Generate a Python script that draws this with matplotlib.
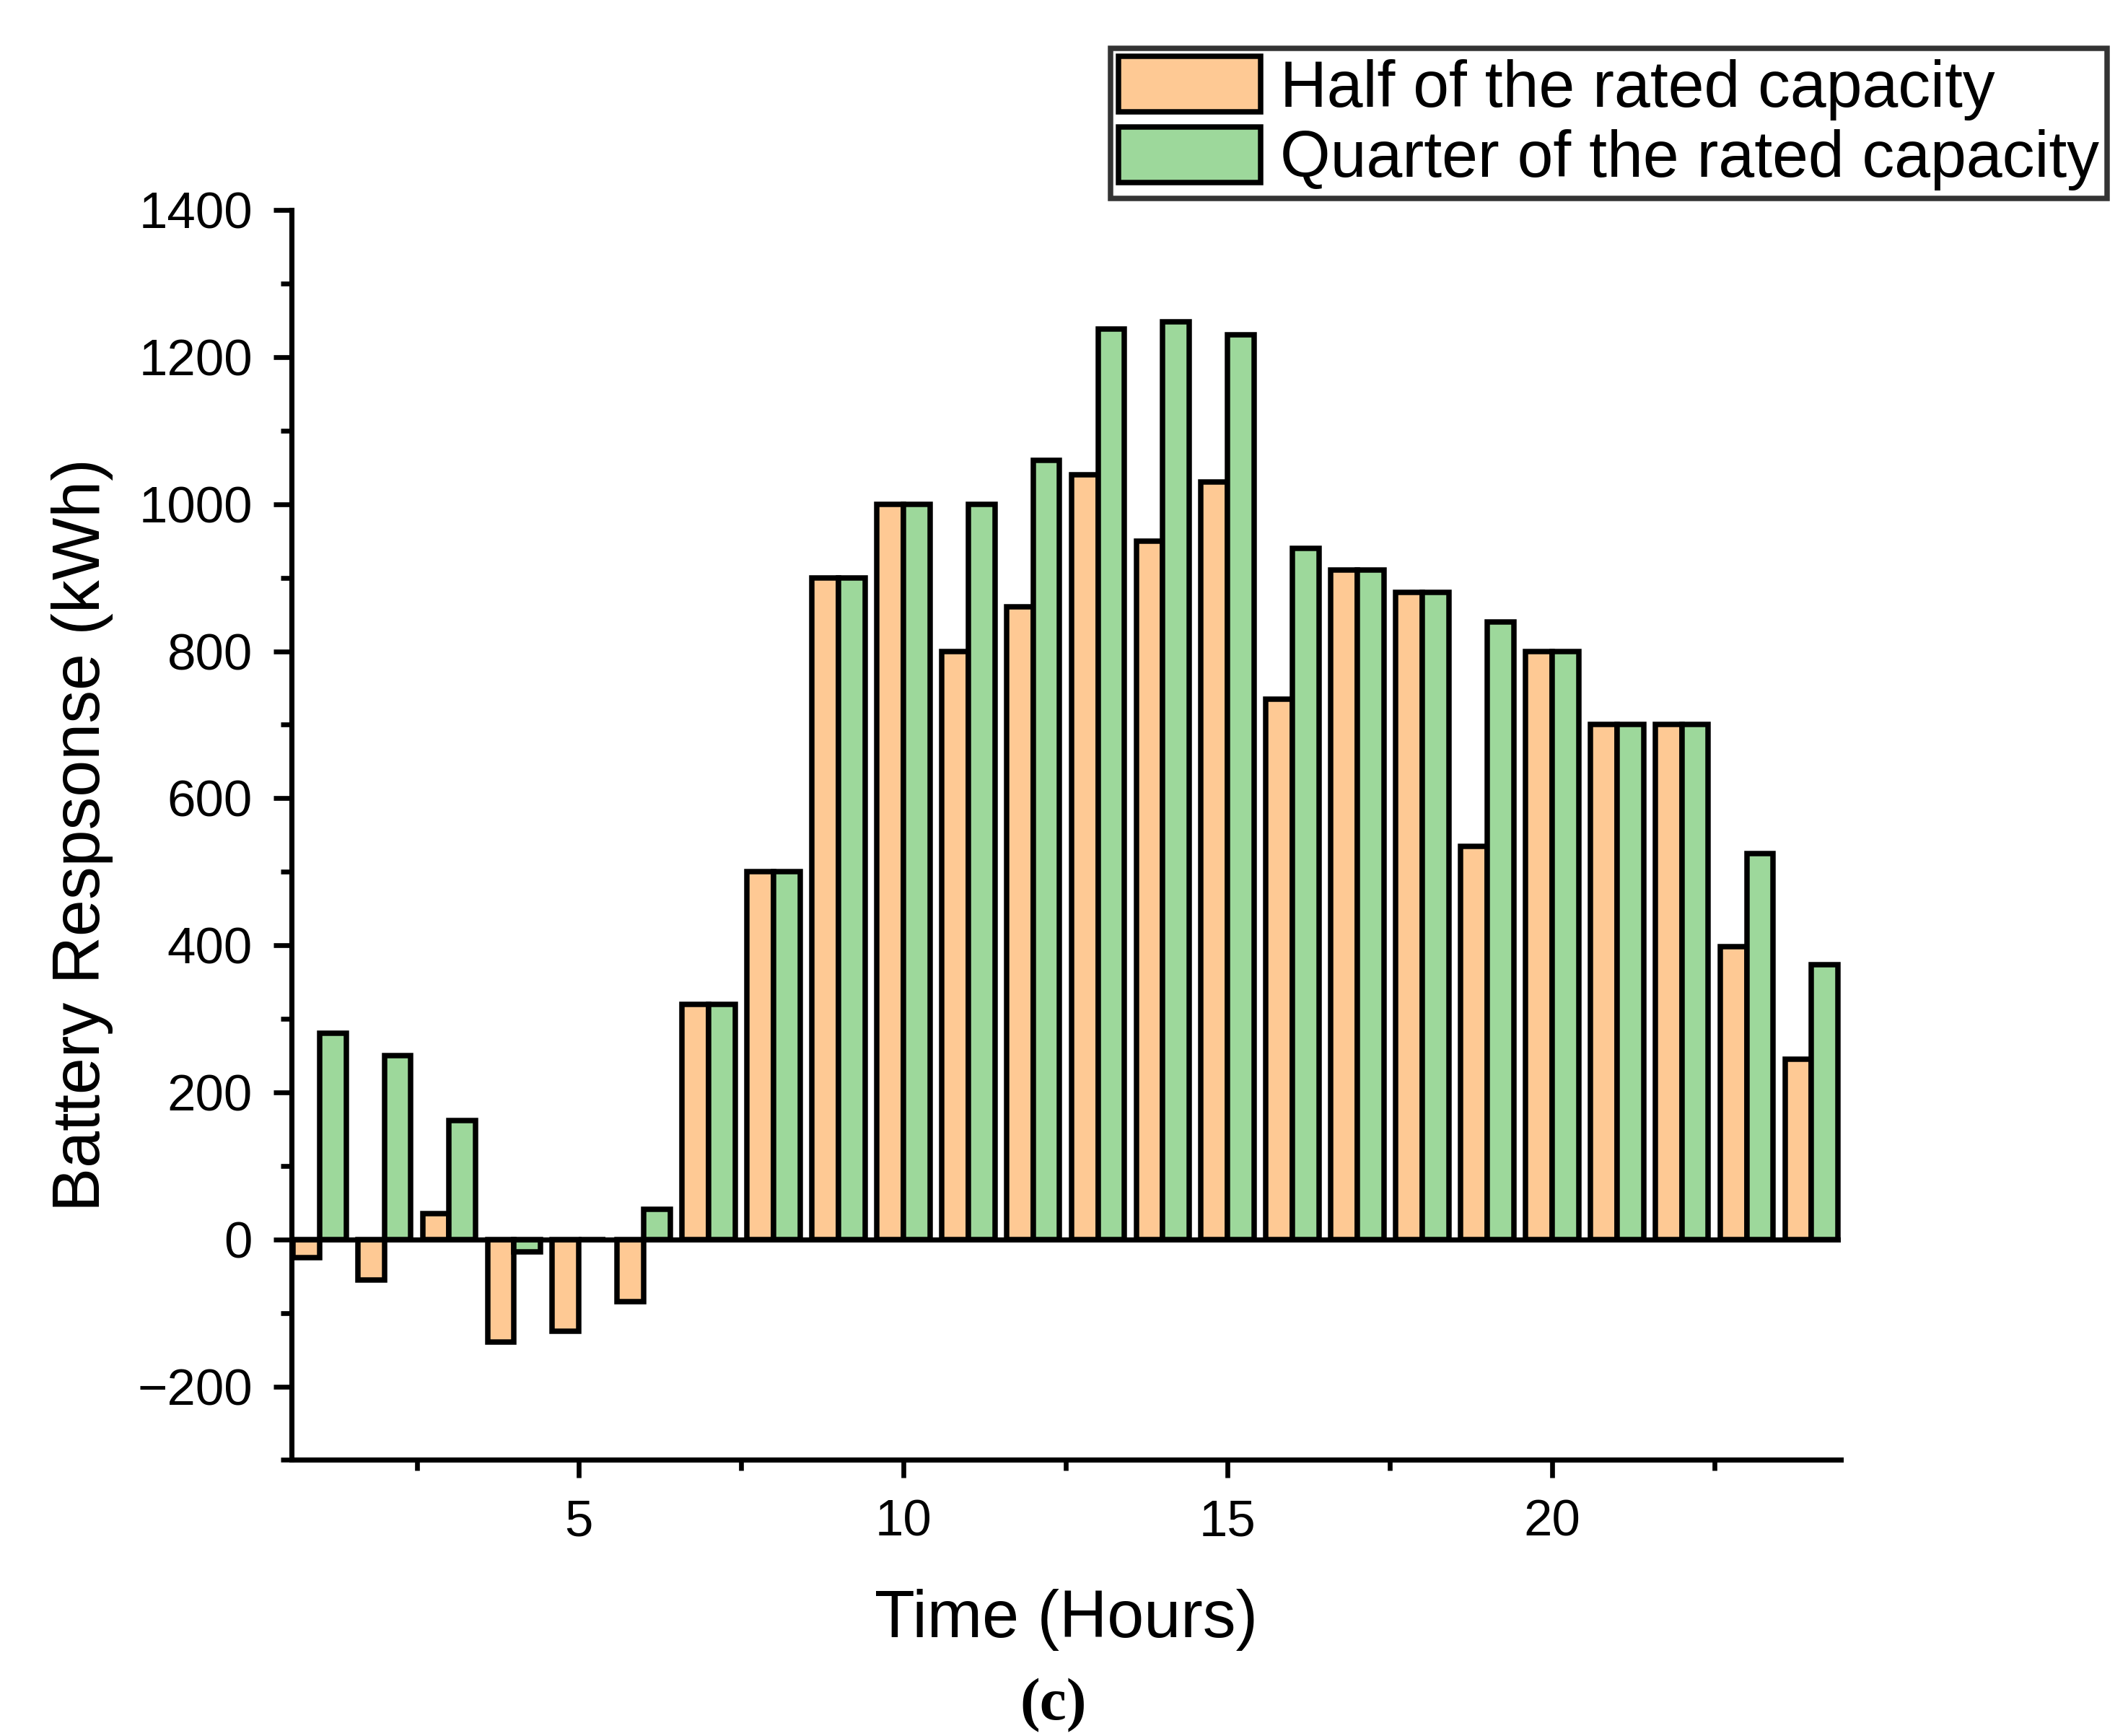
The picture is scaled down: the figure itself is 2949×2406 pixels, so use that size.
import numpy as np
import matplotlib.pyplot as plt
from matplotlib.ticker import MultipleLocator
from matplotlib.patches import Patch

plt.rcParams['font.family'] = ['Liberation Sans', 'DejaVu Sans']

hours = np.arange(1, 25)
half_cap = [-25, -55, 35, -140, -125, -85, 320, 500, 900, 1000, 800, 860,
            1040, 950, 1030, 735, 910, 880, 535, 800, 700, 700, 398, 245]
quarter_cap = [280, 250, 162, -17, 0, 41, 320, 500, 900, 1000, 1000, 1060,
               1238, 1248, 1230, 940, 910, 880, 840, 800, 700, 700, 525, 374]
labels = ['Half of the rated capacity', 'Quarter of the rated capacity']

c_half = '#FEC994'
c_quarter = '#9DD89B'
w = 0.41

fig = plt.figure(figsize=(9.83, 8.02), dpi=300)
ax = fig.add_axes([0.137, 0.159, 0.728, 0.720])

ax.bar(hours - w/2, half_cap, width=w, color=c_half, edgecolor='black', linewidth=1.8, zorder=3)
ax.bar(hours + w/2, quarter_cap, width=w, color=c_quarter, edgecolor='black', linewidth=1.8, zorder=3)
ax.axhline(0, color='black', linewidth=1.7, zorder=4)

ax.set_xlim(0.57, 24.45)
ax.set_ylim(-300, 1400)
ax.xaxis.set_major_locator(MultipleLocator(5))
ax.xaxis.set_minor_locator(MultipleLocator(2.5))
ax.yaxis.set_minor_locator(MultipleLocator(100))
ax.set_yticks(np.arange(-200, 1401, 200))
ax.set_yticklabels(['\u2212200'] + [str(v) for v in range(0, 1401, 200)])

for s in ['top', 'right']:
    ax.spines[s].set_visible(False)
for s in ['left', 'bottom']:
    ax.spines[s].set_linewidth(1.7)

ax.tick_params(axis='both', which='major', direction='out', length=6, width=1.6, labelsize=17, pad=7)
ax.tick_params(axis='both', which='minor', direction='out', length=3.5, width=1.6)

ax.set_xlabel('Time (Hours)', fontsize=22, labelpad=14)
ax.set_ylabel('Battery Respsonse (kWh)', fontsize=22, labelpad=8)

handles = [Patch(facecolor=c_half, edgecolor='black', linewidth=1.8),
           Patch(facecolor=c_quarter, edgecolor='black', linewidth=1.8)]
leg = fig.legend(handles, labels, loc='upper right', bbox_to_anchor=(0.990, 0.972),
                 fontsize=21.5, handlelength=2.2, handleheight=0.95, frameon=True,
                 fancybox=False, edgecolor='black', borderpad=0.12, labelspacing=0.1,
                 handletextpad=0.3, borderaxespad=0)
leg.get_frame().set_linewidth(1.8)

fig.text(0.495, 0.0175, '(c)', family='Liberation Serif', weight='bold',
         fontsize=20, ha='center', va='center')

fig.savefig('out.png', dpi=300)
